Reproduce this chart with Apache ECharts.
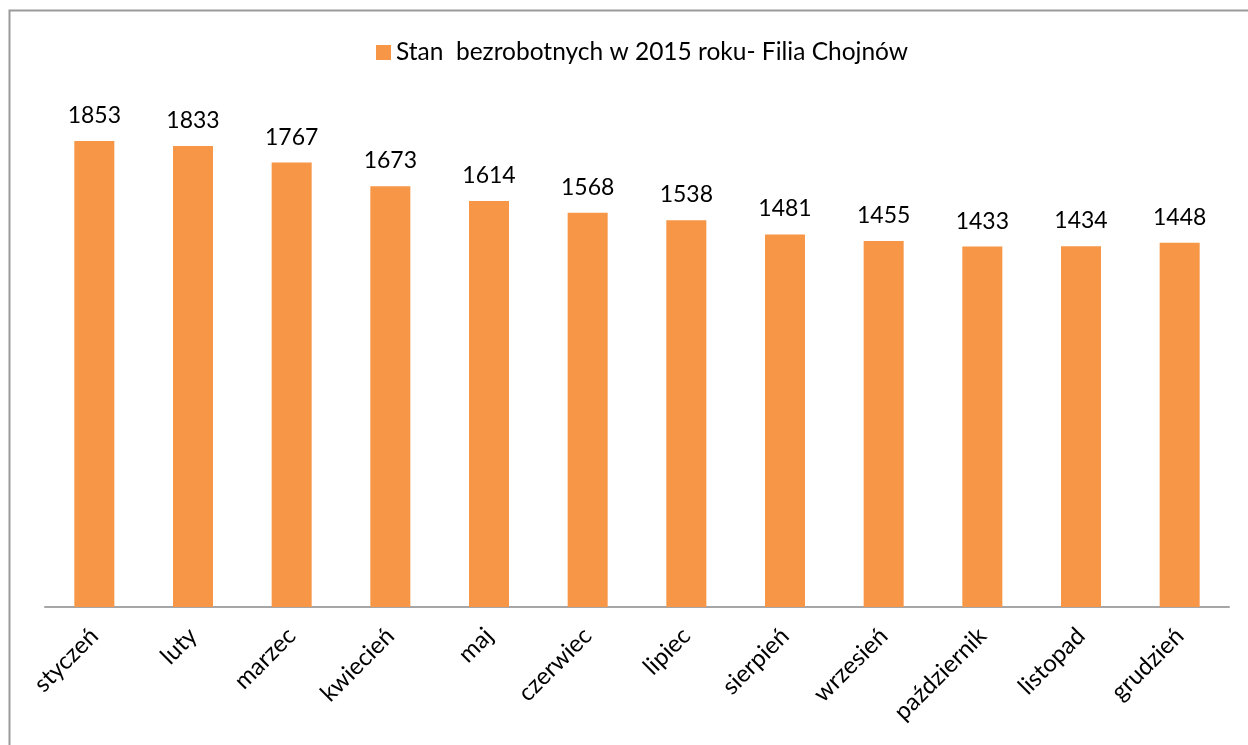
<!DOCTYPE html>
<html>
<head>
<meta charset="utf-8">
<script src="https://cdn.jsdelivr.net/npm/echarts@6/dist/echarts.min.js"></script>
<style>
  html, body { margin: 0; padding: 0; background: #fff; }
  #chart { width: 1248px; height: 745px; }
</style>
</head>
<body>
<div id="chart"></div>
<script>
// dane: liczba bezrobotnych w kolejnych miesiącach 2015
const months = ['styczeń', 'luty', 'marzec', 'kwiecień', 'maj', 'czerwiec', 'lipiec',
  'sierpień', 'wrzesień', 'październik', 'listopad', 'grudzień']
const unemployed = [1853, 1833, 1767, 1673, 1614, 1568, 1538, 1481, 1455, 1433, 1434, 1448]
const seriesName = 'Stan  bezrobotnych w 2015 roku- Filia Chojnów'

const font = 'Lato, "Open Sans", sans-serif'
const chart = echarts.init(document.getElementById('chart'))
chart.setOption({
  backgroundColor: '#fff',
  animation: false,
  textStyle: { fontFamily: font },
  graphic: [{
    type: 'rect',
    shape: { x: 9.5, y: 10.5, width: 1300, height: 800 },
    style: { fill: 'none', stroke: '#9a9a9a', lineWidth: 2 },
    silent: true
  }],
  legend: {
    top: 35,
    left: 371,
    icon: 'rect',
    itemWidth: 15,
    itemHeight: 15,
    itemGap: 5,
    textStyle: { fontSize: 24.5, color: '#000', fontFamily: font },
    data: [seriesName]
  },
  grid: {
    top: 104,
    left: 45,
    right: 19,
    bottom: 138
  },
  xAxis: {
    type: 'category',
    data: months,
    axisLine: { lineStyle: { color: '#a6a6a6', width: 2 } },
    axisTick: { show: false },
    axisLabel: {
      rotate: 45,
      margin: 25,
      fontSize: 24,
      color: '#000',
      fontFamily: font
    }
  },
  yAxis: {
    type: 'value',
    min: 0,
    max: 2000,
    show: false,
    splitLine: { show: false }
  },
  series: [{
    name: seriesName,
    type: 'bar',
    barWidth: 40,
    data: unemployed,
    itemStyle: { color: '#f79646' },
    label: {
      show: true,
      position: 'top',
      distance: 14,
      fontSize: 23,
      color: '#000',
      fontFamily: font
    }
  }]
})
</script>
</body>
</html>
